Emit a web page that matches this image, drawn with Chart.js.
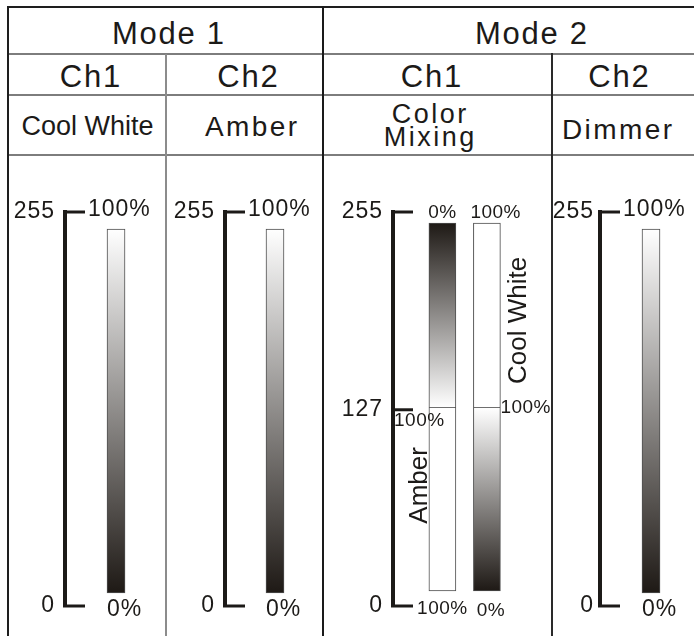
<!DOCTYPE html>
<html>
<head>
<meta charset="utf-8">
<title>DMX channel chart</title>
<script src="https://cdn.jsdelivr.net/npm/chart.js@4.4.1/dist/chart.umd.min.js"></script>
<style>
html,body{margin:0;padding:0;background:#fff;}
#wrap{position:relative;width:694px;height:636px;overflow:hidden;background:#fff;
  font-family:"Liberation Sans",Arial,Helvetica,sans-serif;color:#1c1a18;}
.ln{position:absolute;z-index:2;}
.tx{position:absolute;z-index:3;white-space:pre-line;text-align:center;transform:translate(-50%,-50%);line-height:1;}
.pn{position:absolute;top:160px;height:476px;z-index:1;}
</style>
</head>
<body>
<div id="wrap">
  <div class="ln" style="left:7px;top:6px;width:687px;height:2px;background:#1e1e1e"></div>
  <div class="ln" style="left:7px;top:6px;width:2px;height:630px;background:#1e1e1e"></div>
  <div class="ln" style="left:9px;top:53px;width:685px;height:2px;background:#7d7d7d"></div>
  <div class="ln" style="left:9px;top:94px;width:685px;height:2px;background:#7d7d7d"></div>
  <div class="ln" style="left:9px;top:154px;width:685px;height:2px;background:#7d7d7d"></div>
  <div class="ln" style="left:165px;top:54px;width:2px;height:582px;background:#8c8c8c"></div>
  <div class="ln" style="left:322px;top:6px;width:2px;height:630px;background:#1a1a1a"></div>
  <div class="ln" style="left:551px;top:53px;width:2px;height:583px;background:#2a2a2a"></div>
  <div class="pn" style="left:9px;width:156px"><canvas id="c1"></canvas></div>
  <div class="pn" style="left:167px;width:155px"><canvas id="c2"></canvas></div>
  <div class="pn" style="left:324px;width:227px"><canvas id="c3"></canvas></div>
  <div class="pn" style="left:553px;width:141px"><canvas id="c4"></canvas></div>
</div>
<script>
// ---------------- data ----------------
const modeNames = ['Mode 1', 'Mode 2'];
const channelNames = ['Ch1', 'Ch2', 'Ch1', 'Ch2'];
const functionNames = ['Cool White', 'Amber', 'Color\nMixing', 'Dimmer'];
const dmxTicks = [0, 255];
const dmxTicksMix = [0, 127, 255];
// Mode 1 Ch1: Cool White 0-255 -> 0%-100%
const coolWhiteDmx = [0, 255];
const coolWhitePct = [0, 100];
// Mode 1 Ch2: Amber 0-255 -> 0%-100%
const amberDmx = [0, 255];
const amberPct = [0, 100];
// Mode 2 Ch1: Color Mixing
const mixLowDmx = [0, 127];
const mixHighDmx = [127, 255];
const mixAmberLowPct = [100, 100];
const mixAmberHighPct = [100, 0];
const mixCoolLowPct = [0, 100];
const mixCoolHighPct = [100, 100];
const mixVerticalLabels = ['Amber', 'Cool White'];
// Mode 2 Ch2: Dimmer 0-255 -> 0%-100%
const dimmerDmx = [0, 255];
const dimmerPct = [0, 100];

// ---------------- style ----------------
const FONT = "'Liberation Sans', Arial, Helvetica, sans-serif";
const INK = '#1c1a18';
const DARK = [30, 25, 21];
Chart.defaults.font.family = FONT;
Chart.defaults.color = INK;

// header texts
const wrap = document.getElementById('wrap');
function addText(txt, cx, cy, size, ls, lh) {
  const d = document.createElement('div');
  d.className = 'tx';
  d.textContent = txt;
  d.style.left = (cx + ls / 2) + 'px';
  d.style.top = cy + 'px';
  d.style.fontSize = size + 'px';
  d.style.letterSpacing = ls + 'px';
  if (lh) d.style.lineHeight = lh + 'px';
  wrap.appendChild(d);
}
const modePos = [[168, 33], [531, 33]];
modeNames.forEach((t, i) => addText(t, modePos[i][0], modePos[i][1], 31, 1.7));
const chPos = [[90, 75.5], [247.5, 75.5], [431, 75.5], [618.5, 75.5]];
channelNames.forEach((t, i) => addText(t, chPos[i][0], chPos[i][1], 31, 1.7));
const fnPos = [[87.5, 126, 27, 0], [251, 127, 28, 2.4], [429, 126, 27, 2.5, 23], [617, 130, 28, 2.4]];
functionNames.forEach((t, i) => addText(t, fnPos[i][0], fnPos[i][1], fnPos[i][2], fnPos[i][3], fnPos[i][4]));

// ---------------- chart helpers ----------------
function shade(p) {
  const t = p / 100;
  const c = DARK.map(d => Math.round(d + (255 - d) * t));
  return 'rgb(' + c.join(',') + ')';
}
function gradFill(context) {
  const chart = context.chart;
  if (!chart.chartArea) return '#ffffff';
  const raw = chart.data.datasets[context.datasetIndex].data[context.dataIndex];
  const sc = chart.scales.yb;
  const y0 = sc.getPixelForValue(raw.y[0]);
  const y1 = sc.getPixelForValue(raw.y[1]);
  const g = chart.ctx.createLinearGradient(0, y0, 0, y1);
  g.addColorStop(0, shade(raw.p[0]));
  g.addColorStop(1, shade(raw.p[1]));
  return g;
}

const panelPlugin = {
  id: 'panel',
  beforeDraw(chart, args, o) {
    chart.ctx.letterSpacing = (o.tickSpacing || 0) + 'px';
  },
  afterDraw(chart, args, o) {
    const ctx = chart.ctx;
    const ys = chart.scales.y;
    const yb = chart.scales.yb;
    const ax = ys.right;
    ctx.save();
    ctx.strokeStyle = INK;
    ctx.lineWidth = 3;
    ctx.lineCap = 'butt';
    ys.ticks.forEach(t => {
      const py = ys.getPixelForValue(t.value);
      ctx.beginPath();
      ctx.moveTo(ax - 2, py);
      ctx.lineTo(ax + o.tickLen, py);
      ctx.stroke();
    });
    ctx.fillStyle = INK;
    (o.marks || []).forEach(m => {
      const bar = chart.getDatasetMeta(m.ds).data[m.i];
      const raw = chart.data.datasets[m.ds].data[m.i];
      let x;
      if (m.at === 'tick') x = ax + o.tickLen;
      else if (m.at === 'axis') x = ax;
      else if (m.at === 'barLeft') x = bar.x - bar.width / 2;
      else if (m.at === 'barRight') x = bar.x + bar.width / 2;
      else x = bar.x;
      x += m.dx || 0;
      ctx.font = m.size + 'px ' + FONT;
      ctx.letterSpacing = (m.ls || 0) + 'px';
      if (m.rotate) {
        const yc = (yb.getPixelForValue(raw.y[0]) + yb.getPixelForValue(raw.y[1])) / 2 + (m.dy || 0);
        ctx.save();
        ctx.translate(x, yc);
        ctx.rotate(-Math.PI / 2);
        ctx.textAlign = 'center';
        ctx.textBaseline = 'alphabetic';
        ctx.fillText(m.text, 0, 0);
        ctx.restore();
        return;
      }
      const sc = m.ref === 'bar' ? yb : ys;
      const y = sc.getPixelForValue(raw.y[m.end]) + (m.dy || 0);
      ctx.textAlign = m.align || 'left';
      ctx.textBaseline = 'middle';
      ctx.fillText(raw.p[m.end] + '%', x, y);
    });
    ctx.restore();
  }
};

function panelChart(id, cfg) {
  return new Chart(document.getElementById(id), {
    type: 'bar',
    data: {
      datasets: cfg.datasets.map(d => ({
        data: d.data,
        yAxisID: 'yb',
        grouped: false,
        barThickness: cfg.barW,
        backgroundColor: gradFill,
        borderColor: '#4d4d4d',
        borderWidth: 1,
        borderSkipped: d.skip || false
      }))
    },
    options: {
      responsive: true,
      maintainAspectRatio: false,
      animation: false,
      events: [],
      layout: { padding: { top: 52, bottom: 30, left: 0, right: 0 } },
      plugins: {
        legend: { display: false },
        tooltip: { enabled: false },
        panel: { tickLen: 20, tickSpacing: 1, marks: cfg.marks }
      },
      scales: {
        x: { type: 'linear', min: cfg.xMin, max: cfg.xMax, display: false, offset: false },
        y: {
          type: 'linear', position: 'left', min: 0, max: 255,
          afterBuildTicks: s => { s.ticks = cfg.ticks.map(v => ({ value: v })); },
          afterFit: s => { s.width = cfg.axisW; },
          grid: { display: false, drawTicks: false },
          border: { display: true, color: INK, width: 4 },
          ticks: { padding: cfg.pad, color: INK, font: { size: 23, family: FONT }, autoSkip: false }
        },
        yb: { type: 'linear', position: 'left', display: false, min: cfg.bMin, max: cfg.bMax }
      }
    },
    plugins: [panelPlugin]
  });
}

function singleMarks() {
  return [
    { ds: 0, i: 0, end: 1, at: 'tick', dx: 3, dy: -2, size: 23, ls: 1, align: 'left' },
    { ds: 0, i: 0, end: 0, at: 'barLeft', dx: 0, dy: 4, size: 23, ls: 1, align: 'left' }
  ];
}

panelChart('c1', {
  datasets: [{ data: [{ x: 0, y: coolWhiteDmx, p: coolWhitePct }] }],
  ticks: dmxTicks, axisW: 56, pad: 10, barW: 18,
  xMin: -1, xMax: 0.96, bMin: -9.1, bMax: 266.9,
  marks: singleMarks()
});
panelChart('c2', {
  datasets: [{ data: [{ x: 0, y: amberDmx, p: amberPct }] }],
  ticks: dmxTicks, axisW: 58, pad: 10, barW: 18,
  xMin: -1, xMax: 0.94, bMin: -9.1, bMax: 266.9,
  marks: singleMarks()
});
panelChart('c3', {
  datasets: [
    { data: [{ x: 0, y: mixLowDmx, p: mixAmberLowPct }, { x: 1, y: mixLowDmx, p: mixCoolLowPct }], skip: 'top' },
    { data: [{ x: 0, y: mixHighDmx, p: mixAmberHighPct }, { x: 1, y: mixHighDmx, p: mixCoolHighPct }] }
  ],
  ticks: dmxTicksMix, axisW: 69, pad: 10, barW: 27,
  xMin: -1.11, xMax: 2.44, bMin: -10.4, bMax: 262.6,
  marks: [
    { ds: 1, i: 0, end: 1, at: 'center', dx: 0, dy: 1, size: 19, ls: 0.5, align: 'center' },
    { ds: 1, i: 1, end: 1, at: 'barLeft', dx: -3, dy: 1, size: 19, ls: 0.5, align: 'left' },
    { ds: 0, i: 0, end: 1, at: 'axis', dx: 1, dy: 11, size: 19, ls: 0.5, align: 'left' },
    { ds: 0, i: 1, end: 1, at: 'barRight', dx: 0, dy: 0, ref: 'bar', size: 19, ls: 0.5, align: 'left' },
    { ds: 0, i: 0, end: 0, at: 'center', dx: 0, dy: 3, size: 19, ls: 0.5, align: 'center' },
    { ds: 0, i: 1, end: 0, at: 'center', dx: 4, dy: 5, size: 19, ls: 0.5, align: 'center' },
    { ds: 0, i: 0, rotate: true, text: mixVerticalLabels[0], at: 'barLeft', dx: -2, dy: -14, size: 26, ls: 0 },
    { ds: 1, i: 1, rotate: true, text: mixVerticalLabels[1], at: 'barRight', dx: 26, dy: 5, size: 26, ls: 0 }
  ]
});
panelChart('c4', {
  datasets: [{ data: [{ x: 0, y: dimmerDmx, p: dimmerPct }] }],
  ticks: dmxTicks, axisW: 47, pad: 6, barW: 18,
  xMin: -1, xMax: 0.843, bMin: -9.1, bMax: 266.9,
  marks: singleMarks()
});
</script>
</body>
</html>
